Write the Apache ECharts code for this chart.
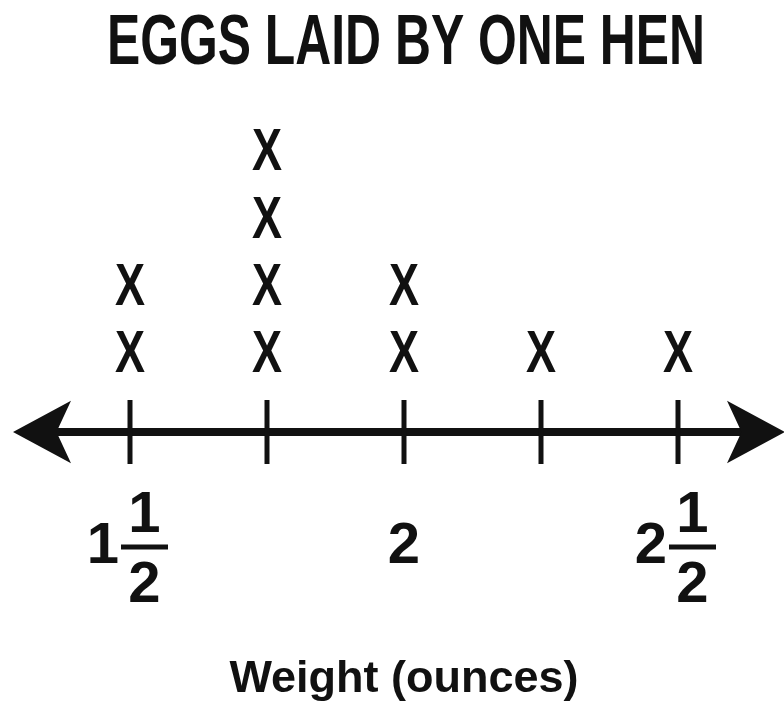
<!DOCTYPE html>
<html>
<head>
<meta charset="utf-8">
<script src="https://cdn.jsdelivr.net/npm/echarts@6/dist/echarts.min.js"></script>
<style>
  html, body { margin: 0; padding: 0; background: #fff; }
  #chart { width: 784px; height: 715px; }
</style>
</head>
<body>
<div id="chart"></div>
<script>
// Egg weights (ounces) and how many eggs were laid at each weight
const weights = [1.5, 1.75, 2, 2.25, 2.5];
const counts = [2, 4, 2, 1, 1];

// Labelled tick positions and their mixed-number labels
const labelValues = [1.5, 2, 2.5];
const labelTexts = ['1 1/2', '2', '2 1/2'];

const titleText = 'EGGS LAID BY ONE HEN';
const axisTitle = 'Weight (ounces)';

const INK = '#111';
const FONT = "'Liberation Sans', Arial, sans-serif";

const X_MIN = 1.30292, X_MAX = 2.67883;
const Y_MIN = -0.131, Y_MAX = 4.5;

// One "X" per egg, stacked above its weight
const marks = [];
weights.forEach((w, i) => {
  for (let k = 1; k <= counts[i]; k++) marks.push([w, k]);
});

// Ticks cross the number line at every quarter ounce
const tickPts = weights.map(w => [w, Y_MIN]);

function tickLabel(value) {
  const i = labelValues.findIndex(v => Math.abs(v - value) < 1e-6);
  if (i < 0) return '';
  const parts = labelTexts[i].split(' ');
  if (parts.length === 2) {
    const fr = parts[1].split('/');
    return '{sp|}{num|' + fr[0] + '}{tr|}\n' +
           '{whole|' + parts[0] + '}{bar|}{tr2|}\n' +
           '{sp3|}{den|' + fr[1] + '}{tr3|}';
  }
  return '{e1|}\n{solo|' + labelTexts[i] + '}\n{e3|}';
}

const L1 = 52, L2 = 10, L3 = 68;
const digit = { fontFamily: FONT, fontWeight: 'bold', fontSize: 58, color: INK, verticalAlign: 'middle' };

const chart = echarts.init(document.getElementById('chart'), null, { renderer: 'canvas' });
chart.setOption({
  backgroundColor: '#fff',
  animation: false,
  graphic: [{
    type: 'text',
    x: 406,
    y: 45,
    scaleX: 0.712,
    silent: true,
    style: {
      text: titleText,
      fontFamily: FONT,
      fontWeight: 'bold',
      fontSize: 70,
      fill: INK,
      align: 'center',
      verticalAlign: 'middle'
    }
  }],
  grid: { left: 22, right: 8, top: 120, bottom: 283 },
  xAxis: {
    type: 'value',
    min: X_MIN,
    max: X_MAX,
    splitLine: { show: false },
    axisTick: { show: false },
    axisLine: {
      show: true,
      onZero: false,
      symbol: ['arrow', 'arrow'],
      symbolSize: [47, 58],
      symbolOffset: [-9, 9],
      lineStyle: { color: INK, width: 8, cap: 'butt' }
    },
    axisLabel: {
      customValues: labelValues,
      margin: 58,
      fontSize: 8,
      lineHeight: 8,
      formatter: tickLabel,
      rich: {
        sp: { width: 36, lineHeight: L1 },
        sp3: { width: 36, lineHeight: L3 },
        tr: { width: 7, lineHeight: L1 },
        tr2: { width: 7, lineHeight: L2 },
        tr3: { width: 7, lineHeight: L3 },
        num: Object.assign({ width: 47, align: 'center', lineHeight: L1 }, digit),
        den: Object.assign({ width: 47, align: 'center', lineHeight: L3 }, digit),
        whole: Object.assign({ width: 36, align: 'center', lineHeight: L2 }, digit),
        bar: { width: 47, height: 5, lineHeight: L2, backgroundColor: INK, verticalAlign: 'middle' },
        e1: { width: 1, lineHeight: L1 },
        e3: { width: 1, lineHeight: L3 },
        solo: Object.assign({ lineHeight: L2, align: 'center' }, digit)
      }
    },
    name: axisTitle,
    nameLocation: 'middle',
    nameGap: 225,
    nameTextStyle: {
      fontFamily: FONT, fontWeight: 'bold', fontSize: 45, color: INK,
      padding: [0, 0, 0, 10]
    }
  },
  yAxis: {
    type: 'value',
    min: Y_MIN,
    max: Y_MAX,
    show: false,
    splitLine: { show: false }
  },
  series: [
    {
      name: 'ticks',
      type: 'scatter',
      data: tickPts,
      symbol: 'rect',
      symbolSize: [5, 64],
      clip: false,
      itemStyle: { color: INK, opacity: 1 },
      silent: true,
      z: 3
    },
    {
      name: 'eggs',
      type: 'custom',
      data: marks,
      clip: false,
      silent: true,
      z: 4,
      renderItem: function (params, api) {
        const p = api.coord([api.value(0), api.value(1)]);
        return {
          type: 'text',
          x: p[0],
          y: p[1],
          scaleX: 0.75,
          style: {
            text: 'X',
            fontFamily: FONT,
            fontWeight: 'bold',
            fontSize: 60,
            fill: INK,
            align: 'center',
            verticalAlign: 'middle'
          }
        };
      }
    }
  ]
});
</script>
</body>
</html>
